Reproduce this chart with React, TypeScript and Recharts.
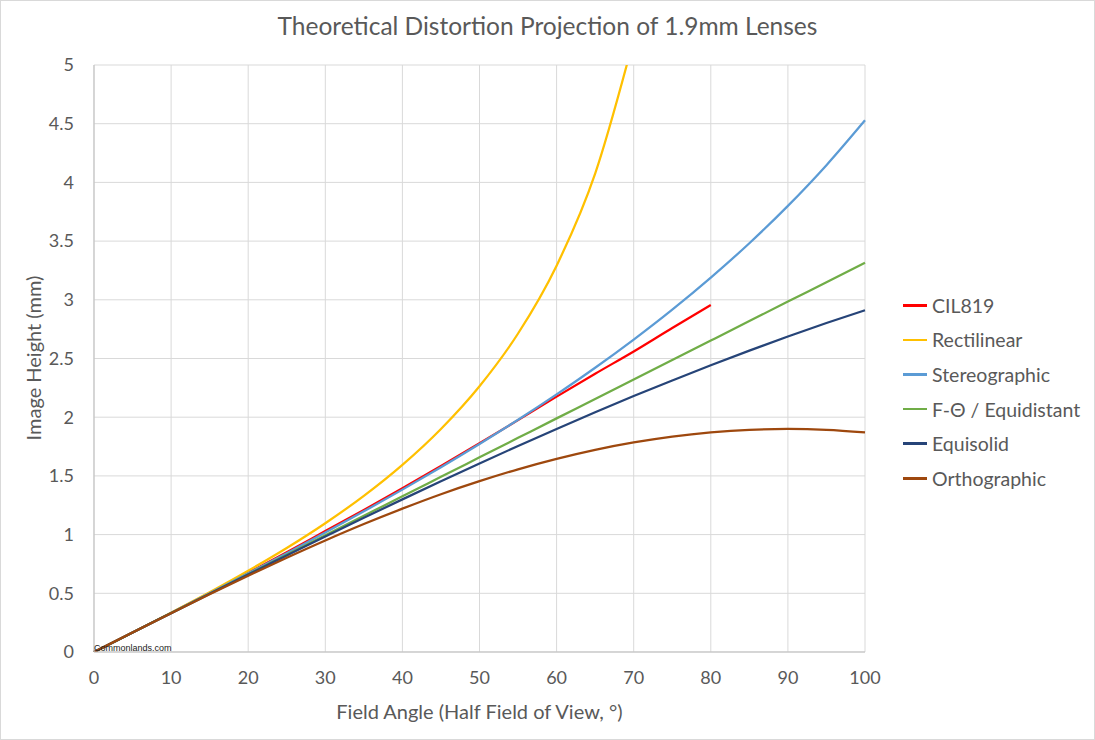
import { FC } from "react";
import {
  LineChart,
  Line,
  XAxis,
  YAxis,
  CartesianGrid,
} from "recharts";

// field angle in degrees
export const angles = [0, 5, 10, 15, 20, 25, 30, 35, 40, 45, 50, 55, 60, 65, 70, 75, 80, 85, 90, 95, 100];

// image height (mm)
export const cil819 = [0, 0.166, 0.333, 0.502, 0.675, 0.85, 1.03, 1.21, 1.395, 1.585, 1.778, 1.975, 2.175, 2.37, 2.56, 2.76, 2.955];
export const rectilinear = [0, 0.166, 0.335, 0.509, 0.692, 0.886, 1.097, 1.33, 1.594, 1.9, 2.264, 2.713, 3.291, 4.075, 5.22];
export const stereographic = [0, 0.166, 0.332, 0.5, 0.67, 0.842, 1.018, 1.198, 1.383, 1.574, 1.772, 1.978, 2.194, 2.421, 2.661, 2.916, 3.189, 3.482, 3.8, 4.147, 4.529];
export const equidistant = [0, 0.166, 0.332, 0.497, 0.663, 0.829, 0.995, 1.161, 1.326, 1.492, 1.658, 1.824, 1.99, 2.155, 2.321, 2.487, 2.653, 2.819, 2.985, 3.15, 3.316];
export const equisolid = [0, 0.166, 0.331, 0.496, 0.66, 0.822, 0.984, 1.143, 1.3, 1.454, 1.606, 1.755, 1.9, 2.042, 2.18, 2.313, 2.443, 2.567, 2.687, 2.802, 2.911];
export const orthographic = [0, 0.166, 0.33, 0.492, 0.65, 0.803, 0.95, 1.09, 1.221, 1.344, 1.455, 1.556, 1.645, 1.722, 1.785, 1.835, 1.871, 1.893, 1.9, 1.893, 1.871];

export const xTicks = [0, 10, 20, 30, 40, 50, 60, 70, 80, 90, 100];
export const yTicks = [0, 0.5, 1, 1.5, 2, 2.5, 3, 3.5, 4, 4.5, 5];

const series = [
  { key: "cil819", name: "CIL819", color: "#FF0000" },
  { key: "rectilinear", name: "Rectilinear", color: "#FFC000" },
  { key: "stereographic", name: "Stereographic", color: "#5B9BD5" },
  { key: "equidistant", name: "F-Θ / Equidistant", color: "#70AD47" },
  { key: "equisolid", name: "Equisolid", color: "#264478" },
  { key: "orthographic", name: "Orthographic", color: "#9E480E" },
];

const data = angles.map((a, i) => ({
  angle: a,
  cil819: cil819[i] ?? null,
  rectilinear: rectilinear[i] ?? null,
  stereographic: stereographic[i] ?? null,
  equidistant: equidistant[i] ?? null,
  equisolid: equisolid[i] ?? null,
  orthographic: orthographic[i] ?? null,
}));

const textColor = "#595959";

const App: FC = () => {
  return (
    <div
      style={{
        position: "absolute",
        left: 0,
        top: 0,
        width: 1095,
        height: 740,
        background: "#fff",
        fontFamily: "Lato, sans-serif",
      }}
    >
      <div
        style={{
          position: "absolute",
          top: 11,
          left: 0,
          width: 1095,
          textAlign: "center",
          fontSize: 24.5,
          color: textColor,
        }}
      >
        Theoretical Distortion Projection of 1.9mm Lenses
      </div>
      <LineChart
        width={1095}
        height={740}
        data={data}
        margin={{ top: 65, right: 230, left: 0, bottom: 0 }}
      >
        <CartesianGrid stroke="#d9d9d9" strokeWidth={1} />
        <XAxis
          dataKey="angle"
          type="number"
          domain={[0, 100]}
          ticks={xTicks}
          height={88}
          tickLine={false}
          tickSize={0}
          tickMargin={19}
          stroke="#bfbfbf"
          tick={{ fill: textColor, fontSize: 18 }}
        />
        <YAxis
          type="number"
          domain={[0, 5]}
          ticks={yTicks}
          allowDataOverflow
          width={94}
          tickLine={false}
          tickSize={0}
          tickMargin={20}
          stroke="#bfbfbf"
          tick={{ fill: textColor, fontSize: 18 }}
        />
        {series.map((s) => (
          <Line
            key={s.key}
            type="monotone"
            dataKey={s.key}
            name={s.name}
            stroke={s.color}
            strokeWidth={2.25}
            dot={false}
            connectNulls={false}
            isAnimationActive={false}
          />
        ))}
      </LineChart>
      <div style={{ position: "absolute", left: 903, top: 288 }}>
        {series.map((s) => (
          <div
            key={s.key}
            style={{ display: "flex", alignItems: "center", height: 34.6 }}
          >
            <div style={{ width: 24, height: 2.5, background: s.color, marginRight: 5 }} />
            <span style={{ fontSize: 19.5, color: textColor }}>{s.name}</span>
          </div>
        ))}
      </div>
      <div
        style={{
          position: "absolute",
          top: 699,
          left: 94,
          width: 771,
          textAlign: "center",
          fontSize: 20,
          color: textColor,
        }}
      >
        Field Angle (Half Field of View, °)
      </div>
      <div
        style={{
          position: "absolute",
          left: 33,
          top: 358,
          transform: "translate(-50%, -50%) rotate(-90deg)",
          whiteSpace: "nowrap",
          fontSize: 20,
          color: textColor,
        }}
      >
        Image Height (mm)
      </div>
      <div
        style={{
          position: "absolute",
          left: 94,
          top: 643,
          fontSize: 9,
          color: "#222",
          fontFamily: "Liberation Sans, Arial, sans-serif",
        }}
      >
        Commonlands.com
      </div>
      <div
        style={{
          position: "absolute",
          inset: 0,
          border: "1px solid #d9d9d9",
          pointerEvents: "none",
        }}
      />
    </div>
  );
};

export default App;
